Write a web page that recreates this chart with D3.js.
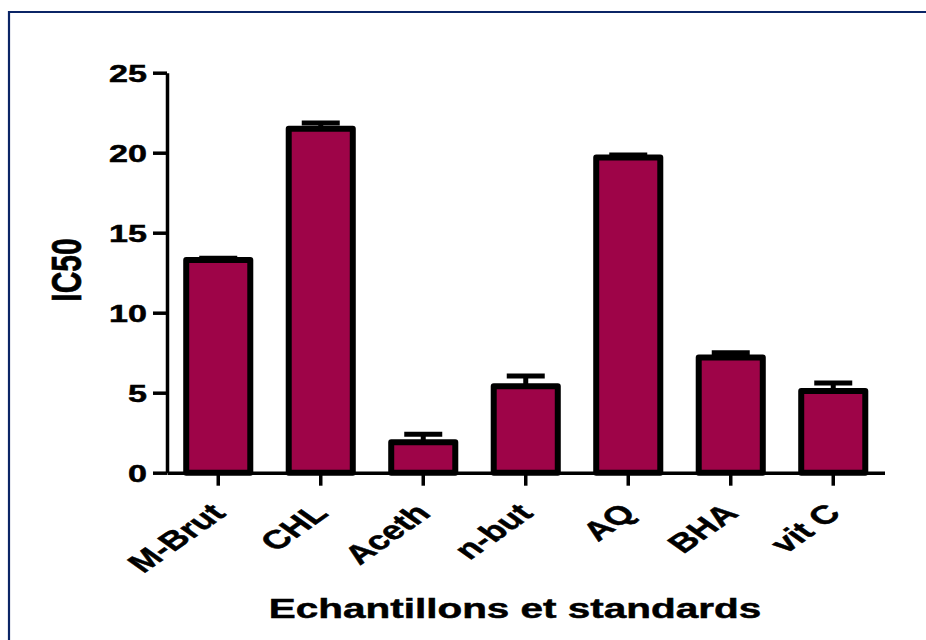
<!DOCTYPE html>
<html>
<head>
<meta charset="utf-8">
<script src="https://cdn.jsdelivr.net/npm/d3@7"></script>
<style>
  html, body { margin: 0; padding: 0; background: #fff; }
  svg { display: block; }
  text { font-family: "Liberation Sans", Arial, sans-serif; font-weight: bold; fill: #000; stroke: #000; stroke-width: 0.5; }
</style>
</head>
<body>
<svg id="chart" width="926" height="640"></svg>
<script>
// IC50 values (mean and error) for extracts and reference standards
const categories = ["M-Brut", "CHL", "Aceth", "n-but", "AQ", "BHA", "vit C"];
const ic50 = [13.3, 21.5, 1.9, 5.4, 19.7, 7.2, 5.1];
const ic50Err = [0.1, 0.35, 0.5, 0.65, 0.15, 0.3, 0.5];
const yTicks = [0, 5, 10, 15, 20, 25];

const svg = d3.select("#chart");
const TX = 1.42; // horizontal stretch applied to the lettering

// page frame
svg.append("path")
  .attr("d", "M9,640V12H926")
  .attr("fill", "none")
  .attr("stroke", "#0b2566")
  .attr("stroke-width", 2.2);

const x = d3.scaleBand()
  .domain(categories)
  .range([167, 884.5])
  .paddingInner(0.375)
  .paddingOuter(0.1875);

const y = d3.scaleLinear().domain([0, 25]).range([472.7, 72.7]);

const rows = categories.map((c, i) => ({ cat: c, v: ic50[i], e: ic50Err[i] }));

// error bars (upper half only)
const eb = svg.append("g").attr("stroke", "#000").attr("stroke-width", 5);
eb.selectAll("line.stem").data(rows).join("line")
  .attr("class", "stem")
  .attr("x1", d => x(d.cat) + x.bandwidth() / 2)
  .attr("x2", d => x(d.cat) + x.bandwidth() / 2)
  .attr("y1", d => y(d.v))
  .attr("y2", d => y(d.v + d.e));
eb.selectAll("line.cap").data(rows).join("line")
  .attr("class", "cap")
  .attr("x1", d => x(d.cat) + x.bandwidth() / 2 - 19)
  .attr("x2", d => x(d.cat) + x.bandwidth() / 2 + 19)
  .attr("y1", d => y(d.v + d.e))
  .attr("y2", d => y(d.v + d.e));

// bars
svg.append("g").selectAll("rect").data(rows).join("rect")
  .attr("x", d => x(d.cat))
  .attr("width", x.bandwidth())
  .attr("y", d => y(d.v))
  .attr("height", d => y(0) - y(d.v))
  .attr("fill", "#9e0448")
  .attr("stroke", "#000")
  .attr("stroke-width", 6)
  .attr("stroke-linejoin", "round");

// y axis
const yAxis = svg.append("g")
  .attr("transform", "translate(167,0)")
  .call(d3.axisLeft(y).tickValues(yTicks).tickSize(14).tickSizeOuter(0).tickFormat(d3.format("d")));
yAxis.select(".domain").attr("stroke", "#000").attr("stroke-width", 3.5);
yAxis.selectAll(".tick line").attr("stroke", "#000").attr("stroke-width", 3.5);
yAxis.selectAll(".tick text")
  .attr("x", null).attr("dy", null)
  .attr("text-anchor", "end")
  .attr("dominant-baseline", "central")
  .attr("font-size", 24)
  .attr("transform", `translate(-20,0) scale(${TX},1)`);

// x axis
const xAxis = svg.append("g")
  .attr("transform", `translate(0,${y(0)})`)
  .call(d3.axisBottom(x).tickSize(13).tickSizeOuter(0));
xAxis.select(".domain").attr("stroke", "#000").attr("stroke-width", 3.5);
xAxis.selectAll(".tick line").attr("stroke", "#000").attr("stroke-width", 3.5);
xAxis.selectAll(".tick text")
  .attr("y", null).attr("dy", null)
  .attr("text-anchor", "end")
  .attr("font-size", 26)
  .attr("transform", `translate(9,42) scale(${TX},1) rotate(-45)`);

// axis titles
svg.append("text")
  .attr("text-anchor", "middle")
  .attr("font-size", 28.5)
  .attr("transform", `translate(515,618) scale(${TX},1)`)
  .text("Echantillons et standards");

svg.append("text")
  .attr("text-anchor", "middle")
  .attr("font-size", 30)
  .attr("transform", `translate(81,270) scale(${TX},1) rotate(-90)`)
  .text("IC50");
</script>
</body>
</html>
